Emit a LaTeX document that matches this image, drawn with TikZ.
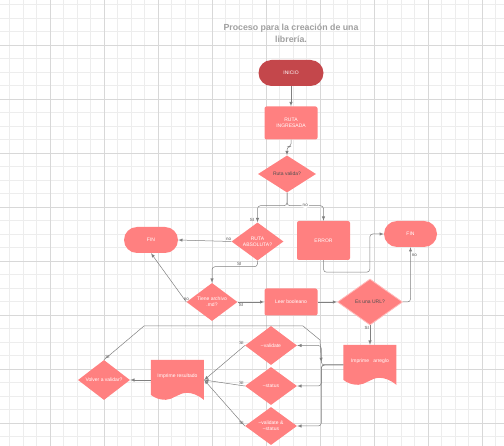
\documentclass[tikz,border=0pt]{standalone}
\usepackage{fontspec}
\setmainfont{Liberation Sans}
\usetikzlibrary{positioning,shapes.geometric}
\definecolor{salmonred}{HTML}{FF8080}
\definecolor{startred}{HTML}{C4474B}
\definecolor{linegray}{HTML}{808080}
\definecolor{labelgray}{HTML}{555555}
\definecolor{darktext}{HTML}{505050}
\definecolor{titlegray}{HTML}{A0A0A0}
\definecolor{gridminor}{HTML}{EDEDED}
\definecolor{gridmajor}{HTML}{D8D8D8}

% document box with a wavy bottom, text set on top of it
\newcommand{\wavedoc}[2]{%
  \begin{scope}[shift={(#1.north west)}]
    \fill[salmonred] (0,0) -- (53,0) -- (53,40)
      .. controls (47,35) and (41,33) .. (36,33)
      .. controls (28,33) and (22,40) .. (15,40)
      .. controls (8,40) and (4,38) .. (0,35) -- cycle;
  \end{scope}
  \node[doctext] (#1-txt) at ([yshift=3.3pt]#1.center) {#2};}

\begin{document}
\begin{tikzpicture}[x=1pt, y=-1pt, node distance=50pt and 50pt, on grid,
    every node/.style={font=\fontsize{5}{6}\selectfont},
    term/.style={rectangle, rounded corners=13pt, fill=salmonred, text=white,
      minimum width=53pt, minimum height=26pt, inner sep=1pt},
    box/.style={rectangle, rounded corners=2pt, fill=salmonred, text=white,
      minimum width=53pt, align=center, inner sep=1pt},
    decision/.style={diamond, fill=salmonred, text=white, shape aspect=1.4,
      minimum width=52pt, minimum height=39pt, align=center, inner sep=0pt},
    docbox/.style={rectangle, minimum width=53pt, minimum height=40pt, inner sep=0pt},
    doctext/.style={text=white, inner sep=0pt},
    conn/.style={draw=linegray, line width=0.5pt, -latex, rounded corners=3pt},
    lbl/.style={font=\fontsize{4.5}{5}\selectfont, text=labelgray, inner sep=1pt},
    gridfine/.style={draw=gridminor, line width=0.6pt},
    gridbold/.style={draw=gridmajor, line width=0.8pt},
    title/.style={font=\bfseries\fontsize{8.8}{12.3}\selectfont, text=titlegray, align=center}]
  \useasboundingbox (0,0) rectangle (504,446);
  % grid
  \foreach \x in {9.5,23,...,500} \draw[gridfine] (\x,0) -- (\x,446);
  \foreach \y in {4.5,18,...,446} \draw[gridfine] (0,\y) -- (504,\y);
  \foreach \x in {50,104,...,504} \draw[gridbold] (\x,0) -- (\x,446);
  \foreach \y in {45,99,...,446} \draw[gridbold] (0,\y) -- (504,\y);

  \node[term, fill=startred, minimum width=65pt] (inicio) at (291,73) {INICIO};
  \node[title] (titulo) [above=40pt of inicio] {Proceso para la creación de una\\librería.};
  \node[box, minimum height=33pt] (ruta) [below=50pt of inicio] {RUTA\\INGRESADA};
  \node[decision, text=darktext, minimum width=58pt, minimum height=37pt] (valida) [below left=51pt and 4pt of ruta] {Ruta valida?};
  \node[decision, minimum height=38pt] (absoluta) [below left=67.5pt and 29.5pt of valida] {RUTA\\ABSOLUTA?};
  \node[box, minimum height=39pt] (error) [below right=66.5pt and 36.5pt of valida] {ERROR};
  \node[term, minimum width=54pt] (fin1) [above left=1.5pt and 106.5pt of absoluta] {FIN};
  \node[decision, minimum width=51pt, minimum height=38pt] (tiene) [below left=60.5pt and 45.5pt of absoluta] {Tiene archivo\\.md?};
  \node[box, minimum height=27pt] (leer) [right=79pt of tiene] {Leer booleano};
  \node[decision, text=darktext, minimum width=65pt, minimum height=46pt,
    draw=salmonred!55!white, line width=0.8pt] (url) [right=79pt of leer] {Es una URL?};
  \node[term] (fin2) [above right=68pt and 40.5pt of url] {FIN};
  \node[docbox] (arreglo) [below=63pt of url] {};
  \wavedoc{arreglo}{Imprime\ \ \ arreglo}
  \node[decision] (validate) [above left=19.5pt and 99pt of arreglo] {--validate};
  \node[decision, minimum height=38pt] (status) [below=40.5pt of validate] {--status};
  \node[decision, minimum height=38pt] (ambos) [below=40pt of status] {--validate \&\\--status};
  \node[docbox] (resultado) [above left=6pt and 93.5pt of status] {};
  \wavedoc{resultado}{Imprime resultado}
  \node[decision, minimum height=40pt] (volver) [left=73.5pt of resultado] {Volver a validar?};
  \coordinate (trunk) at ([xshift=-22pt]arreglo.west);
  \coordinate (loopa) at (144,326);
  \coordinate (loopb) at (303,326);

  \draw[conn] (inicio) -- (ruta);
  \draw[conn] (ruta.south) -- ++(0,7) -| (valida.north);
  \draw[conn] (valida.south) -- ++(0,13) -| node[lbl, pos=1, above left, xshift=-2pt]{SI} (absoluta.north);
  \draw[conn] (valida.south) -- ++(0,13) -| node[lbl, fill=white, pos=0.25]{no} (error.north);
  \draw[conn] (absoluta.west) -- node[lbl, pos=0.05, above]{no} (fin1.east);
  \draw[conn] (absoluta.south) -- ++(0,6) -| node[lbl, pos=0.2, above]{SI} (tiene.north);
  \draw[conn] (tiene.west) -- node[lbl, at start, above]{no} (fin1.south);
  \draw[conn] (tiene.east) -- node[lbl, at start, below right]{SI} (leer.west);
  \draw[conn] (leer) -- (url);
  \draw[conn] (url.east) -| node[lbl, pos=0.93, right]{no} (fin2.south);
  \draw[conn] (error.south) -- ++(0,12) -| ([xshift=-14pt]fin2.west) -- (fin2.west);
  \draw[conn] (url.south) -- node[lbl, at start, below left]{SI} (arreglo.north);
  \draw[conn] (arreglo.west) -- (trunk) |- (validate.east);
  \draw[conn] (arreglo.west) -- (trunk) |- (status.east);
  \draw[conn] (arreglo.west) -- (trunk) |- (ambos.east);
  \draw[conn, rounded corners=0pt] (volver.north) -- node[lbl, at start, above right]{SI} (loopa)
    -- (loopb) -- ++(17,14) -- ([yshift=3pt]trunk);
  \draw[conn] (validate.west) -- node[lbl, at start, above left]{SI} (resultado.east);
  \draw[conn] (status.west) -- node[lbl, at start, above left]{SI} (resultado.east);
  \draw[conn] (ambos.west) -- node[lbl, at start, above left]{SI} (resultado.east);
  \draw[conn] (resultado) -- (volver);
\end{tikzpicture}
\end{document}
